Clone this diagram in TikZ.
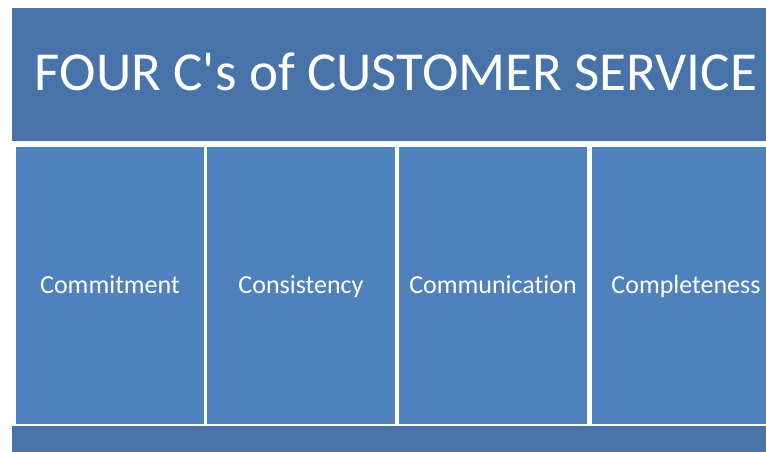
\documentclass[tikz,border=0pt]{standalone}
\usepackage{fontspec}
\setmainfont[Ligatures={NoCommon}]{Carlito}
\definecolor{bannerblue}{HTML}{4773A9}
\definecolor{colblue}{HTML}{4F81BD}

\begin{document}
\begin{tikzpicture}[x=1pt, y=-1pt,
    banner/.style={fill=bannerblue, draw=none, inner sep=0pt, anchor=north west},
    pillar/.style={fill=colblue, draw=white, line width=2pt, inner sep=0pt,
        anchor=north west, minimum width=190pt, minimum height=279pt,
        text height=15pt, text depth=0pt,
        text=white, font=\fontsize{26}{30}\selectfont}]
    \useasboundingbox (0,0) rectangle (766,452);
    \clip (0,0) rectangle (766,452);

    % roof and floor
    \node[banner, minimum width=770pt, minimum height=133pt] (roof) at (12,8) {};
    \node[text=white, anchor=base, font=\fontsize{55}{60}\selectfont] (title)
        at (396,91) {FOUR C\textquotesingle s of CUSTOMER SERVICE};
    \node[banner, minimum width=770pt, minimum height=30pt] (floor) at (12,426) {};

    % the four pillars
    \foreach \i/\x/\t in {1/14/Commitment, 2/205/Consistency,
                          3/397/Communication, 4/590/Completeness}
        \node[pillar, name=col\i] at (\x,145) {\t};
\end{tikzpicture}
\end{document}
